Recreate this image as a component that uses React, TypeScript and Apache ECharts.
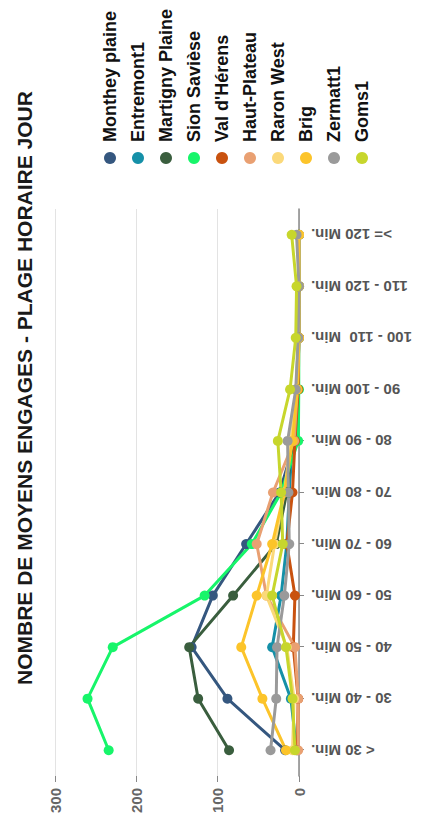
import React, { useEffect, useRef } from "react";
import * as echarts from "echarts";

const categories = [
  "< 30 Min.",
  "30 - 40 Min.",
  "40 - 50 Min.",
  "50 - 60 Min.",
  "60 - 70 Min.",
  "70 - 80 Min.",
  "80 - 90 Min.",
  "90 - 100 Min.",
  "100 - 110  Min.",
  "110 - 120 Min.",
  ">= 120 Min.",
];

const seriesNames = [
  "Monthey plaine",
  "Entremont1",
  "Martigny Plaine",
  "Sion Savièse",
  "Val d'Hérens",
  "Haut-Plateau",
  "Raron West",
  "Brig",
  "Zermatt1",
  "Goms1",
];

const montheyPlaine = [17, 88, 132, 106, 65, 24, 5, 2, 0, 0, 0];
const entremont1 = [3, 10, 33, 22, 15, 12, 8, 3, 1, 0, 0];
const martignyPlaine = [86, 124, 135, 81, 28, 15, 8, 2, 0, 0, 0];
const sionSaviese = [234, 260, 229, 116, 58, 22, 1, 0, 0, 0, 0];
const valDHerens = [2, 1, 7, 5, 15, 8, 5, 1, 0, 0, 0];
const hautPlateau = [1, 1, 5, 40, 52, 32, 6, 2, 0, 0, 0];
const raronWest = [8, 6, 15, 40, 30, 18, 10, 3, 1, 0, 0];
const brig = [16, 45, 71, 52, 33, 18, 8, 2, 0, 0, 0];
const zermatt1 = [35, 28, 27, 18, 12, 13, 14, 4, 1, 0, 3];
const goms1 = [5, 8, 16, 33, 20, 22, 26, 11, 4, 3, 9];

const seriesValues = [
  montheyPlaine,
  entremont1,
  martignyPlaine,
  sionSaviese,
  valDHerens,
  hautPlateau,
  raronWest,
  brig,
  zermatt1,
  goms1,
];

const colors = [
  "#35577f",
  "#1590a8",
  "#3a5e3e",
  "#17f56a",
  "#c9520f",
  "#e9a072",
  "#fbd97a",
  "#fcc42a",
  "#9a9a9a",
  "#c7d62c",
];

const title = "NOMBRE DE MOYENS ENGAGES - PLAGE HORAIRE JOUR";

export default function App() {
  const ref = useRef<HTMLDivElement>(null);

  useEffect(() => {
    if (!ref.current) return;
    const chart = echarts.init(ref.current, null, { renderer: "svg" });
    const font = "'Liberation Sans', Arial, sans-serif";
    chart.setOption({
      animation: false,
      color: colors,
      title: {
        text: title,
        left: 140,
        top: 9,
        textStyle: {
          fontSize: 21,
          fontWeight: "bold",
          color: "#1a1a1a",
          fontFamily: font,
        },
      },
      legend: {
        orient: "vertical",
        left: 661,
        top: 96,
        icon: "circle",
        itemWidth: 12,
        itemHeight: 12,
        itemGap: 10,
        data: seriesNames,
        textStyle: {
          fontSize: 18,
          fontWeight: "bold",
          color: "#111",
          fontFamily: font,
          padding: [0, 0, 0, 5],
        },
      },
      grid: {
        left: 54,
        right: 209,
        top: 55,
        bottom: 124,
        containLabel: false,
      },
      xAxis: {
        type: "category",
        data: categories,
        boundaryGap: true,
        axisLine: { show: true, lineStyle: { color: "#888", width: 1.5 } },
        axisTick: {
          show: true,
          alignWithLabel: true,
          length: 5,
          lineStyle: { color: "#888" },
        },
        axisLabel: {
          rotate: 90,
          margin: 12,
          fontSize: 15,
          fontWeight: "bold",
          color: "#555",
          fontFamily: font,
        },
      },
      yAxis: {
        type: "value",
        min: 0,
        max: 300,
        interval: 100,
        axisLine: { show: false },
        axisTick: { show: true, length: 6, lineStyle: { color: "#888" } },
        splitLine: { lineStyle: { color: "#e3e3e3", width: 1 } },
        axisLabel: {
          margin: 12,
          fontSize: 15,
          fontWeight: "bold",
          color: "#666",
          fontFamily: font,
        },
      },
      series: seriesNames.map((name, i) => ({
        name,
        type: "line",
        data: seriesValues[i],
        symbol: "circle",
        symbolSize: 10,
        showSymbol: true,
        lineStyle: { width: 3 },
        itemStyle: { color: colors[i] },
      })),
    });
    return () => {
      chart.dispose();
    };
  }, []);

  return (
    <div
      style={{
        position: "fixed",
        left: 0,
        top: 0,
        width: 423,
        height: 830,
        overflow: "hidden",
        background: "#fff",
      }}
    >
      <div
        ref={ref}
        style={{
          position: "absolute",
          left: 0,
          top: 0,
          width: 830,
          height: 423,
          transformOrigin: "0 0",
          transform: "translate(0px, 830px) rotate(-90deg)",
        }}
      />
    </div>
  );
}
